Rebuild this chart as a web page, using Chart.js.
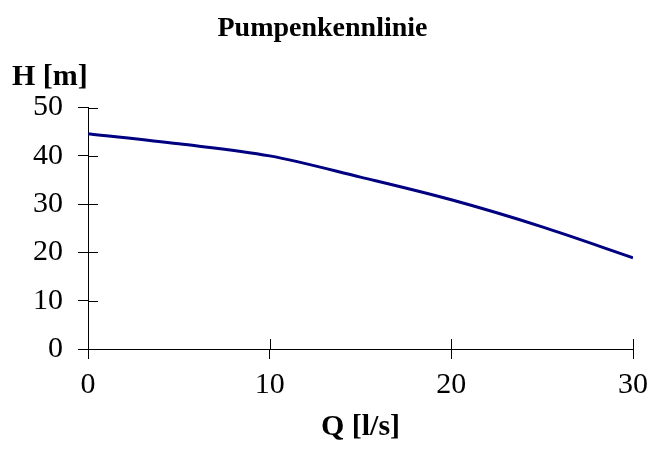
<!DOCTYPE html>
<html>
<head>
<meta charset="utf-8">
<script src="https://cdn.jsdelivr.net/npm/chart.js@4/dist/chart.umd.min.js"></script>
<style>
  html, body { margin: 0; padding: 0; background: #fff; }
  #wrap { width: 651px; height: 470px; }
</style>
</head>
<body>
<div id="wrap"><canvas id="chart" width="651" height="470"></canvas></div>
<script>
// Pumpenkennlinie: Förderhöhe H über Förderstrom Q
const flow = [0, 5, 10, 15, 20, 25, 30];
const head = [44.6, 42.5, 40.0, 35.6, 30.9, 25.3, 18.9];
const xTicks = [0, 10, 20, 30];
const yTicks = [0, 10, 20, 30, 40, 50];

const serif = '"Liberation Serif", "Times New Roman", serif';

// tick marks crossing the axis line (inner half)
const innerTicks = {
  id: 'innerTicks',
  afterDatasetsDraw(chart) {
    const ctx = chart.ctx;
    const x = chart.scales.x, y = chart.scales.y;
    ctx.save();
    ctx.strokeStyle = '#000';
    ctx.lineWidth = 1;
    ctx.beginPath();
    yTicks.forEach(v => {
      const py = Math.round(y.getPixelForValue(v)) + 0.5;
      ctx.moveTo(x.left, py);
      ctx.lineTo(x.left + 10, py);
    });
    xTicks.forEach(v => {
      const px = Math.round(x.getPixelForValue(v)) + 0.5;
      ctx.moveTo(px, y.bottom);
      ctx.lineTo(px, y.bottom - 10);
    });
    ctx.stroke();
    ctx.restore();
  }
};

new Chart(document.getElementById('chart'), {
  type: 'line',
  data: {
    datasets: [{
      data: flow.map((q, i) => ({ x: q, y: head[i] })),
      borderColor: '#000080',
      borderWidth: 3,
      pointRadius: 0,
      cubicInterpolationMode: 'monotone',
      fill: false
    }]
  },
  options: {
    responsive: false,
    animation: false,
    layout: { padding: { left: 12, right: 18, top: 0, bottom: 12 } },
    plugins: {
      legend: { display: false },
      tooltip: { enabled: false },
      title: {
        display: true,
        text: 'Pumpenkennlinie',
        color: '#000',
        font: { family: serif, size: 28, weight: 'bold', lineHeight: 1.2 },
        padding: { top: 12, bottom: 14 }
      },
      subtitle: {
        display: true,
        text: 'H [m]',
        align: 'start',
        color: '#000',
        font: { family: serif, size: 30, weight: 'bold', lineHeight: 1.2 },
        padding: { top: 0, bottom: 12 }
      }
    },
    scales: {
      x: {
        type: 'linear',
        min: 0,
        max: 30,
        afterBuildTicks: s => { s.ticks = xTicks.map(v => ({ value: v })); },
        afterFit: s => { s.height = 470 - 12 - 349; s.paddingLeft = 0; s.paddingRight = 0; },
        border: { display: true, color: '#000', width: 1 },
        grid: { drawOnChartArea: false, color: '#000', tickLength: 10 },
        ticks: { color: '#000', padding: 8, maxRotation: 0, font: { family: serif, size: 30 } },
        title: {
          display: true,
          text: 'Q [l/s]',
          color: '#000',
          font: { family: serif, size: 30, weight: 'bold' },
          padding: { top: 0, bottom: 13 }
        }
      },
      y: {
        type: 'linear',
        min: 0,
        max: 50,
        afterBuildTicks: s => { s.ticks = yTicks.map(v => ({ value: v })); },
        afterFit: s => { s.width = 76; s.paddingTop = 0; s.paddingBottom = 0; },
        border: { display: true, color: '#000', width: 1 },
        grid: { drawOnChartArea: false, color: '#000', tickLength: 10 },
        ticks: { color: '#000', padding: 15, font: { family: serif, size: 30 } }
      }
    }
  },
  plugins: [innerTicks]
});
</script>
</body>
</html>
